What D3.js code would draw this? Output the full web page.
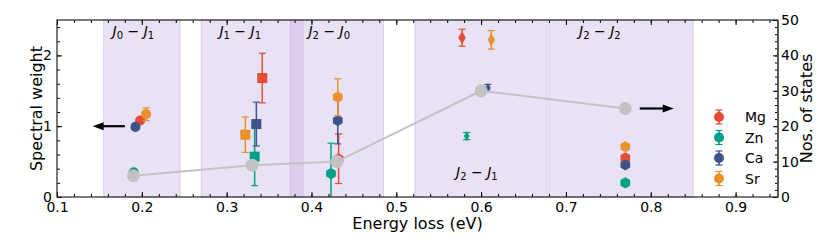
<!DOCTYPE html>
<html>
<head>
<meta charset="utf-8">
<script src="https://cdn.jsdelivr.net/npm/d3@7"></script>
<style>
  body { margin: 0; background: #fff; }
  text { font-family: "DejaVu Sans", sans-serif; }
</style>
</head>
<body>
<script>
// shaded transition windows (eV) and their labels
var regionLo = [0.155, 0.27, 0.375, 0.522, 0.68];
var regionHi = [0.245, 0.39, 0.485, 0.678, 0.85];
var regionJa = ["0", "1", "2", "2", "2"];
var regionJb = ["1", "1", "0", "1", "2"];
var regionLabelX = [0.19, 0.316, 0.421, 0.595, 0.74];
var regionLabelY = [2.28, 2.28, 2.28, 0.285, 2.28];

// marker shape per window
var groupShape = ["circle", "square", "hexagon", "diamond", "hexagon"];

var elements = ["Mg", "Zn", "Ca", "Sr"];
var colors = ["#e64b35", "#00a087", "#3c5488", "#e8912d"];

var mgX = [0.198, 0.342, 0.432, 0.5775, 0.77];
var mgY = [1.08, 1.68, 0.54, 2.25, 0.553];
var mgErr = [0.03, 0.35, 0.35, 0.12, 0.02];

var znX = [0.1905, 0.333, 0.423, 0.583, 0.77];
var znY = [0.35, 0.57, 0.33, 0.86, 0.2];
var znErr = [0.02, 0.41, 0.43, 0.05, 0.02];

var caX = [0.1925, 0.335, 0.431, 0.608, 0.77];
var caY = [0.99, 1.03, 1.08, 1.54, 0.455];
var caErr = [0.02, 0.31, 0.33, 0.05, 0.02];

var srX = [0.205, 0.322, 0.431, 0.612, 0.77];
var srY = [1.17, 0.88, 1.41, 2.22, 0.71];
var srErr = [0.09, 0.25, 0.26, 0.13, 0.02];

// number of states (right axis)
var statesX = [0.19, 0.33, 0.43, 0.6, 0.77];
var statesN = [6, 9, 10, 30, 25];

// set the dimensions and margins of the graph
var margin = {top: 20, right: 52, bottom: 49, left: 57},
    width = 830 - margin.left - margin.right,
    height = 246 - margin.top - margin.bottom;

var x = d3.scaleLinear().domain([0.1, 0.95]).range([0, width]);
var y = d3.scaleLinear().domain([0, 2.5]).range([height, 0]);
var y2 = d3.scaleLinear().domain([0, 50]).range([height, 0]);

var svg = d3.select("body").append("svg")
    .attr("width", 830)
    .attr("height", 246)
  .append("g")
    .attr("transform", "translate(" + margin.left + "," + margin.top + ")");

// shaded regions
regionLo.forEach(function(lo, i) {
  svg.append("rect")
      .attr("x", x(lo))
      .attr("y", 0)
      .attr("width", x(regionHi[i]) - x(lo))
      .attr("height", height)
      .attr("fill", "#c9b3e3")
      .attr("fill-opacity", 0.4)
      .attr("stroke", "#b9a0dc")
      .attr("stroke-opacity", 0.45)
      .attr("stroke-width", 1);

  var t = svg.append("text")
      .attr("x", x(regionLabelX[i]))
      .attr("y", y(regionLabelY[i]))
      .attr("text-anchor", "middle")
      .style("font-size", "14px");
  t.append("tspan").style("font-style", "italic").text("J");
  t.append("tspan").attr("dy", 3).style("font-size", "10px").text(regionJa[i]);
  t.append("tspan").attr("dy", -3).text(" \u2212 ");
  t.append("tspan").style("font-style", "italic").text("J");
  t.append("tspan").attr("dy", 3).style("font-size", "10px").text(regionJb[i]);
});

// marker shapes
function hexagon(r) {
  var pts = d3.range(6).map(function(k) {
    var a = Math.PI / 2 + k * Math.PI / 3;
    return [r * Math.cos(a), -r * Math.sin(a)];
  });
  return "M" + pts.join("L") + "Z";
}
function shapePath(s, small) {
  if (s === "circle") return d3.symbol(d3.symbolCircle, 80)();
  if (s === "square") return d3.symbol(d3.symbolSquare, 100)();
  if (s === "hexagon") return hexagon(5.6);
  return d3.symbol(d3.symbolDiamond, small ? 28 : 48)();
}

var seriesX = [mgX, znX, caX, srX];
var seriesY = [mgY, znY, caY, srY];
var seriesErr = [mgErr, znErr, caErr, srErr];

elements.forEach(function(el, e) {
  var g = svg.append("g");
  seriesX[e].forEach(function(xv, i) {
    var cx = x(xv), cy = y(seriesY[e][i]);
    var lo = y(Math.max(0, seriesY[e][i] - seriesErr[e][i]));
    var hi = y(seriesY[e][i] + seriesErr[e][i]);
    g.append("line")
        .attr("x1", cx).attr("x2", cx).attr("y1", lo).attr("y2", hi)
        .attr("stroke", colors[e]).attr("stroke-width", 1.5);
    [lo, hi].forEach(function(yy) {
      if (seriesY[e][i] - seriesErr[e][i] < 0 && yy === lo) return;
      g.append("line")
          .attr("x1", cx - 3.5).attr("x2", cx + 3.5).attr("y1", yy).attr("y2", yy)
          .attr("stroke", colors[e]).attr("stroke-width", 1.2);
    });
    var small = groupShape[i] === "diamond" && (el === "Zn" || el === "Ca");
    g.append("path")
        .attr("d", shapePath(groupShape[i], small))
        .attr("transform", "translate(" + cx + "," + cy + ")")
        .attr("fill", colors[e]);
  });
});

// number of states line (right axis)
var line = d3.line()
    .x(function(d, i) { return x(statesX[i]); })
    .y(function(d) { return y2(d); });

svg.append("path")
    .datum(statesN)
    .attr("d", line)
    .attr("fill", "none")
    .attr("stroke", "#c2c2c2")
    .attr("stroke-width", 2);

svg.selectAll(".state")
    .data(statesN)
  .enter().append("circle")
    .attr("cx", function(d, i) { return x(statesX[i]); })
    .attr("cy", function(d) { return y2(d); })
    .attr("r", 6.5)
    .attr("fill", "#c2c2c2");

// arrows pointing to the axes
function arrow(x1, x2, yy) {
  var dir = x2 < x1 ? -1 : 1;
  svg.append("line")
      .attr("x1", x1).attr("x2", x2 - dir * 8).attr("y1", yy).attr("y2", yy)
      .attr("stroke", "#000").attr("stroke-width", 2.2);
  svg.append("path")
      .attr("d", "M" + x2 + "," + yy + "L" + (x2 - dir * 11) + "," + (yy - 4) +
                 "L" + (x2 - dir * 11) + "," + (yy + 4) + "Z")
      .attr("fill", "#000");
}
arrow(x(0.18), x(0.142), y(1));
arrow(x(0.787), x(0.827), y2(25));

// axes with inward ticks
function styleAxis(g) {
  g.selectAll("text").style("font-size", "14px").attr("fill", "#000");
  g.selectAll("line").attr("stroke", "#000");
  g.select(".domain").remove();
}

var xMinor = d3.range(0.1, 0.951, 0.02);
svg.append("g")
    .attr("transform", "translate(0," + height + ")")
    .call(d3.axisBottom(x).tickValues(xMinor).tickSize(-3).tickFormat(""))
    .call(styleAxis);
svg.append("g")
    .call(d3.axisTop(x).tickValues(xMinor).tickSize(-3).tickFormat(""))
    .call(styleAxis);
svg.append("g")
    .attr("transform", "translate(0," + height + ")")
    .call(d3.axisBottom(x).tickValues(d3.range(0.1, 0.951, 0.1)).tickSize(-5)
          .tickPadding(5).tickFormat(d3.format(".1f")))
    .call(styleAxis);
svg.append("g")
    .call(d3.axisTop(x).tickValues(d3.range(0.1, 0.951, 0.1)).tickSize(-5).tickFormat(""))
    .call(styleAxis);

svg.append("g")
    .call(d3.axisLeft(y).tickValues(d3.range(0, 2.51, 0.2)).tickSize(-3).tickFormat(""))
    .call(styleAxis);
svg.append("g")
    .call(d3.axisLeft(y).tickValues([0, 1, 2]).tickSize(-5).tickPadding(5).tickFormat(d3.format("d")))
    .call(styleAxis);

svg.append("g")
    .attr("transform", "translate(" + width + ",0)")
    .call(d3.axisRight(y2).tickValues(d3.range(0, 51, 2)).tickSize(-3).tickFormat(""))
    .call(styleAxis);
svg.append("g")
    .attr("transform", "translate(" + width + ",0)")
    .call(d3.axisRight(y2).tickValues(d3.range(0, 51, 10)).tickSize(-5).tickPadding(3))
    .call(styleAxis);

// frame
svg.append("rect")
    .attr("width", width).attr("height", height)
    .attr("fill", "none").attr("stroke", "#222").attr("stroke-width", 1.2);
svg.append("line")
    .attr("x1", width).attr("x2", width).attr("y1", 0).attr("y2", height)
    .attr("stroke", "#555").attr("stroke-width", 1.8);

// axis labels
svg.append("text")
    .attr("x", width / 2)
    .attr("y", height + 32)
    .attr("text-anchor", "middle")
    .style("font-size", "16px")
    .text("Energy loss (eV)");

svg.append("text")
    .attr("transform", "translate(" + (-15) + "," + (height / 2) + ") rotate(-90)")
    .attr("text-anchor", "middle")
    .style("font-size", "16px")
    .text("Spectral weight");

svg.append("text")
    .attr("transform", "translate(" + (width + 34) + "," + (height / 2) + ") rotate(-90)")
    .attr("text-anchor", "middle")
    .style("font-size", "16px")
    .text("Nos. of states");

// legend
var legend = svg.append("g")
    .attr("transform", "translate(" + (x(0.1) + 662) + "," + 97 + ")");
elements.forEach(function(el, e) {
  var row = legend.append("g").attr("transform", "translate(0," + (e * 20.5) + ")");
  row.append("line").attr("x1", 0).attr("x2", 0).attr("y1", -7).attr("y2", 7)
      .attr("stroke", colors[e]).attr("stroke-width", 1.5);
  [-7, 7].forEach(function(yy) {
    row.append("line").attr("x1", -3.5).attr("x2", 3.5).attr("y1", yy).attr("y2", yy)
        .attr("stroke", colors[e]).attr("stroke-width", 1.2);
  });
  row.append("circle").attr("r", 5).attr("fill", colors[e]);
  row.append("text")
      .attr("x", 26)
      .attr("y", 5)
      .style("font-size", "14px")
      .text(el);
});
</script>
</body>
</html>
